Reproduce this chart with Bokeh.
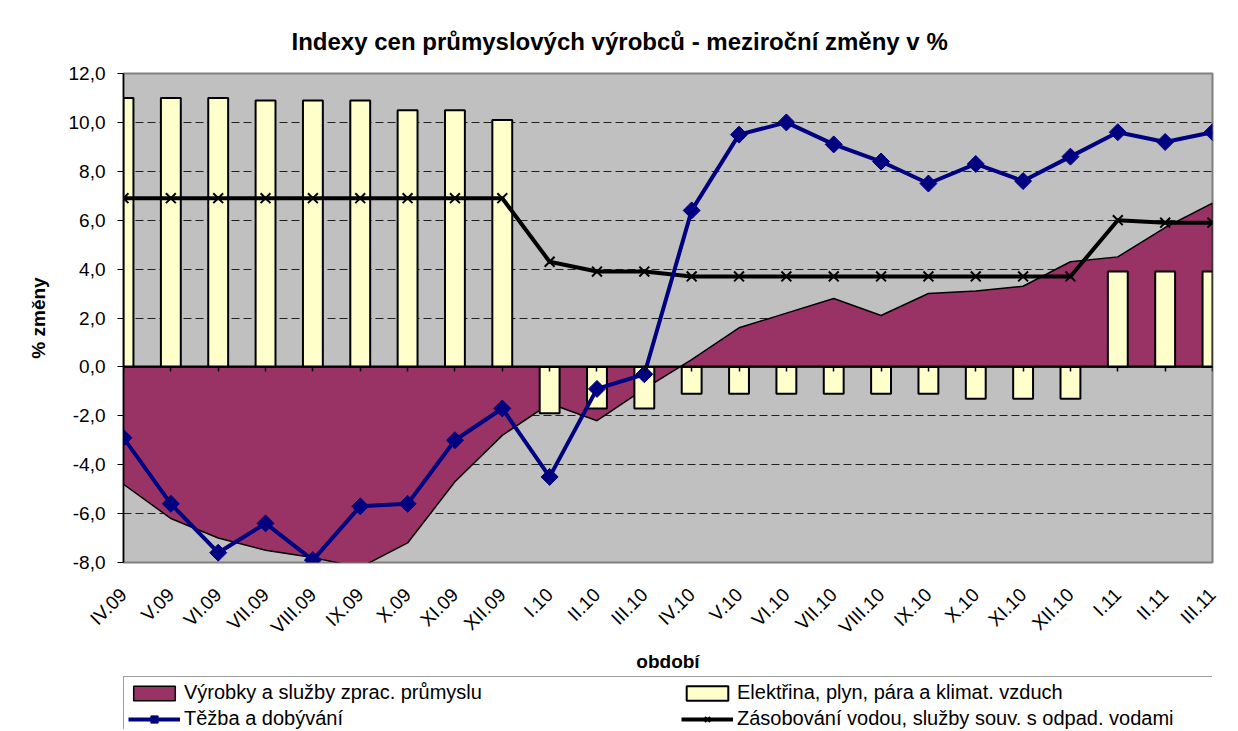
import math
from bokeh.plotting import figure
from bokeh.layouts import column
from bokeh.models import Range1d, FixedTicker, LinearAxis, Legend, LegendItem
from bokeh.embed import file_html
from bokeh.resources import INLINE

categories = ["IV.09", "V.09", "VI.09", "VII.09", "VIII.09", "IX.09", "X.09", "XI.09", "XII.09",
              "I.10", "II.10", "III.10", "IV.10", "V.10", "VI.10", "VII.10", "VIII.10", "IX.10",
              "X.10", "XI.10", "XII.10", "I.11", "II.11", "III.11"]

vyrobky = [-4.8, -6.2, -7.0, -7.5, -7.8, -8.2, -7.2, -4.7, -2.8, -1.5, -2.2, -0.9,
           0.3, 1.6, 2.2, 2.8, 2.1, 3.0, 3.1, 3.3, 4.3, 4.5, 5.7, 6.7]
elektrina = [11.0, 11.0, 11.0, 10.9, 10.9, 10.9, 10.5, 10.5, 10.1, -1.9, -1.7, -1.7,
             -1.1, -1.1, -1.1, -1.1, -1.1, -1.1, -1.3, -1.3, -1.3, 3.9, 3.9, 3.9]
tezba = [-2.9, -5.6, -7.6, -6.4, -7.9, -5.7, -5.6, -3.0, -1.7, -4.5, -0.9, -0.3,
         6.4, 9.5, 10.0, 9.1, 8.4, 7.5, 8.3, 7.6, 8.6, 9.6, 9.2, 9.6]
zasobovani = [6.9, 6.9, 6.9, 6.9, 6.9, 6.9, 6.9, 6.9, 6.9, 4.3, 3.9, 3.9,
              3.7, 3.7, 3.7, 3.7, 3.7, 3.7, 3.7, 3.7, 3.7, 6.0, 5.9, 5.9]

y_ticks = [-8, -6, -4, -2, 0, 2, 4, 6, 8, 10, 12]
y_tick_labels = ["-8,0", "-6,0", "-4,0", "-2,0", "0,0", "2,0", "4,0", "6,0", "8,0", "10,0", "12,0"]

series_names = ["Výrobky a služby zprac. průmyslu",
                "Elektřina, plyn, pára a klimat. vzduch",
                "Těžba a dobývání",
                "Zásobování vodou, služby souv. s odpad. vodami"]

title_text = "Indexy cen průmyslových výrobců - meziroční změny v %"
FONT = "Liberation Sans"

MAROON = "#993366"
CREAM = "#FFFFCC"
NAVY = "#000080"

x = list(range(len(categories)))
xs = [x[0]] + x + [x[-1]]
ys = [0] + vyrobky + [0]


def draw_series(fig, visible=True):
    area = fig.patch(xs, ys, fill_color=MAROON, line_color="black", line_width=1.5,
                     visible=visible)
    bars = fig.vbar(x=x, top=elektrina, bottom=0, width=0.42, fill_color=CREAM,
                    line_color="black", line_width=2, visible=visible)
    zl = fig.line(x, zasobovani, line_color="black", line_width=4, visible=visible)
    zs = fig.scatter(x, zasobovani, marker="x", size=14, line_color="black", line_width=2,
                     visible=visible)
    tl = fig.line(x, tezba, line_color=NAVY, line_width=4, visible=visible)
    ts = fig.scatter(x, tezba, marker="square", angle=math.pi / 4, size=12,
                     fill_color=NAVY, line_color=NAVY, visible=visible)
    return area, bars, (tl, ts), (zl, zs)


p = figure(width=1236, height=675, output_backend="svg", toolbar_location=None,
           x_range=Range1d(x[0], x[-1]), y_range=Range1d(y_ticks[0], y_ticks[-1]),
           min_border_left=123, min_border_right=24, min_border_top=73, min_border_bottom=113)

p.background_fill_color = "#C0C0C0"
p.border_fill_color = "white"
p.outline_line_color = "#808080"
p.outline_line_width = 2

# title
p.title.text = title_text
p.title.text_font = FONT
p.title.text_font_size = "24px"
p.title.text_font_style = "bold"
p.title.text_color = "black"
p.title.align = "left"
p.title.offset = 168
p.title.standoff = 38

draw_series(p)

# axes
xa = p.xaxis[0]
xa.ticker = FixedTicker(ticks=x)
xa.major_label_overrides = {i: c for i, c in zip(x, categories)}
xa.major_label_orientation = math.pi / 4
xa.major_tick_line_color = None
xa.minor_tick_line_color = None
xa.axis_line_color = None
xa.major_label_text_font = FONT
xa.major_label_text_font_size = "19px"
xa.major_label_text_color = "black"
xa.major_label_standoff = 23
xa.axis_label = "období"
xa.axis_label_text_font = FONT
xa.axis_label_text_font_size = "19px"
xa.axis_label_text_font_style = "bold"
xa.axis_label_text_color = "black"
xa.axis_label_standoff = 3

zero_axis = LinearAxis(fixed_location=0, ticker=FixedTicker(ticks=x),
                       major_tick_in=0, major_tick_out=5, major_tick_line_width=1.5,
                       major_tick_line_color="black", minor_tick_line_color=None,
                       axis_line_width=2, axis_line_color="black",
                       major_label_text_color=None, major_label_text_font_size="1px")
p.add_layout(zero_axis, "below")

ya = p.yaxis[0]
ya.ticker = FixedTicker(ticks=y_ticks)
ya.major_label_overrides = {v: s for v, s in zip(y_ticks, y_tick_labels)}
ya.major_tick_in = 0
ya.major_tick_out = 6
ya.major_tick_line_color = "black"
ya.minor_tick_line_color = None
ya.axis_line_color = "black"
ya.axis_line_width = 1.5
ya.major_label_text_font = FONT
ya.major_label_text_font_size = "19px"
ya.major_label_text_color = "black"
ya.major_label_standoff = 12
ya.axis_label = "% změny"
ya.axis_label_text_font = FONT
ya.axis_label_text_font_size = "19px"
ya.axis_label_text_font_style = "bold"
ya.axis_label_text_color = "black"
ya.axis_label_standoff = 17

p.xgrid.visible = False
p.ygrid.ticker = FixedTicker(ticks=y_ticks)
p.ygrid.grid_line_color = "#202020"
p.ygrid.grid_line_dash = "8 4"
p.ygrid.grid_line_width = 1

# legend strip: a second figure whose (hidden) renderers supply the legend glyphs
lf = figure(width=1236, height=54, output_backend="svg", toolbar_location=None,
            x_axis_location=None, y_axis_location=None, min_border=0,
            x_range=Range1d(x[0], x[-1]), y_range=Range1d(y_ticks[0], y_ticks[-1]))
lf.grid.visible = False
lf.outline_line_color = None
lf.background_fill_color = "white"
lf.border_fill_color = "white"

la, lb, (ltl, lts), (lzl, lzs) = draw_series(lf, visible=False)

legend = Legend(items=[
    LegendItem(label=series_names[0], renderers=[la]),
    LegendItem(label=series_names[1], renderers=[lb]),
    LegendItem(label=series_names[2], renderers=[ltl, lts]),
    LegendItem(label=series_names[3], renderers=[lzl, lzs]),
], location=(0, -6), orientation="horizontal", ncols=2,
    glyph_width=52, glyph_height=18, label_standoff=4, label_width=494,
    label_height=20, spacing=3, padding=4, margin=0,
    label_text_font=FONT, label_text_font_size="20px", label_text_color="black",
    border_line_color="#404040", border_line_width=1.5,
    background_fill_color="white", background_fill_alpha=1.0,
    inactive_fill_alpha=0.0)
lf.add_layout(legend)

layout = column(p, lf, spacing=0)

open("out.html", "w").write(file_html(layout, INLINE))
